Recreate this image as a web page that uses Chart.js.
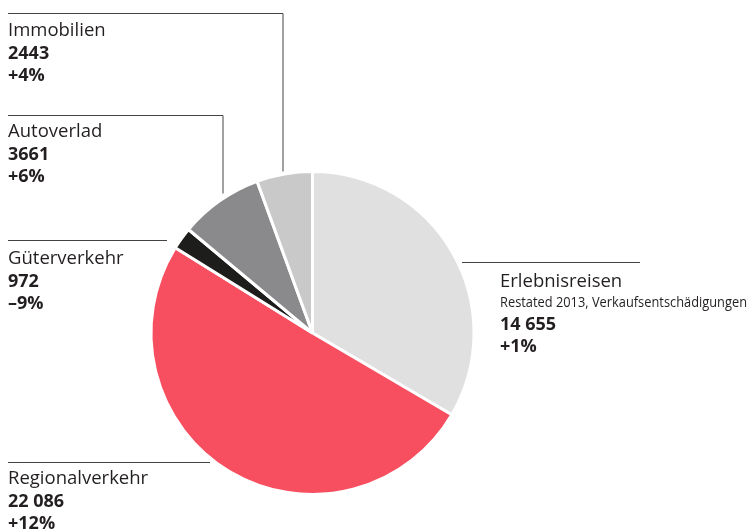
<!DOCTYPE html>
<html><head><meta charset="utf-8">
<script src="https://cdn.jsdelivr.net/npm/chart.js@4/dist/chart.umd.min.js"></script>
<style>html,body{margin:0;padding:0;background:#fff}#wrap{width:751px;height:531px;position:relative}</style>
</head><body><div id="wrap"><canvas id="c" width="751" height="531"></canvas></div>
<script>
const categories = ["Erlebnisreisen", "Regionalverkehr", "Güterverkehr", "Autoverlad", "Immobilien"];
const values = [14655, 22086, 972, 3661, 2443];
const valueLabels = ["14 655", "22 086", "972", "3661", "2443"];
const changes = ["+1%", "+12%", "–9%", "+6%", "+4%"];
const notes = ["Restated 2013, Verkaufsentschädigungen", "", "", "", ""];
const colors = ["#e0e0e0", "#f84f60", "#1d1d1b", "#8a8a8c", "#c9c9c9"];

// label layout: x, first baseline, leader line spec
const layout = [
  {x: 500, y: 287, line: [[462, 262], [640, 262]]},
  {x: 8, y: 484, line: [[8, 462], [210, 462]]},
  {x: 8, y: 264, line: [[8, 240], [167, 240]]},
  {x: 8, y: 137, line: [[8, 115], [223, 115], [223, 193]]},
  {x: 8, y: 36, line: [[8, 13], [283, 13], [283, 171]]}
];

const FONT = '"Open Sans", "Noto Sans", sans-serif';
const labelPlugin = {
  id: 'labels',
  afterDraw(chart) {
    const ctx = chart.ctx;
    ctx.save();
    layout.forEach((l, i) => {
      ctx.strokeStyle = '#444';
      ctx.lineWidth = 1;
      ctx.beginPath();
      l.line.forEach((p, j) => j ? ctx.lineTo(p[0], p[1] + 0.5) : ctx.moveTo(p[0], p[1] + 0.5));
      ctx.stroke();
      ctx.fillStyle = '#231f20';
      ctx.textBaseline = 'alphabetic';
      ctx.textAlign = 'left';
      let y = l.y;
      ctx.font = '18.5px ' + FONT;
      ctx.fillText(categories[i], l.x, y);
      if (notes[i]) {
        y += 20;
        ctx.font = '14px ' + FONT;
        const w = ctx.measureText(notes[i]).width;
        const target = 247;
        ctx.save();
        ctx.translate(l.x, y);
        ctx.scale(target / w, 1);
        ctx.fillText(notes[i], 0, 0);
        ctx.restore();
      }
      y += 22.5;
      ctx.font = 'bold 18px ' + FONT;
      ctx.fillText(valueLabels[i], l.x, y);
      y += 22.5;
      ctx.fillText(changes[i], l.x, y);
    });
    ctx.restore();
  }
};

new Chart(document.getElementById('c'), {
  type: 'pie',
  data: {
    labels: categories,
    datasets: [{data: values, backgroundColor: colors, borderColor: '#ffffff', borderWidth: 3, hoverOffset: 0}]
  },
  options: {
    responsive: false,
    animation: false,
    layout: {padding: {top: 170, bottom: 35, left: 149.5, right: 275.5}},
    plugins: {legend: {display: false}, tooltip: {enabled: false}}
  },
  plugins: [labelPlugin]
});
</script></body></html>
